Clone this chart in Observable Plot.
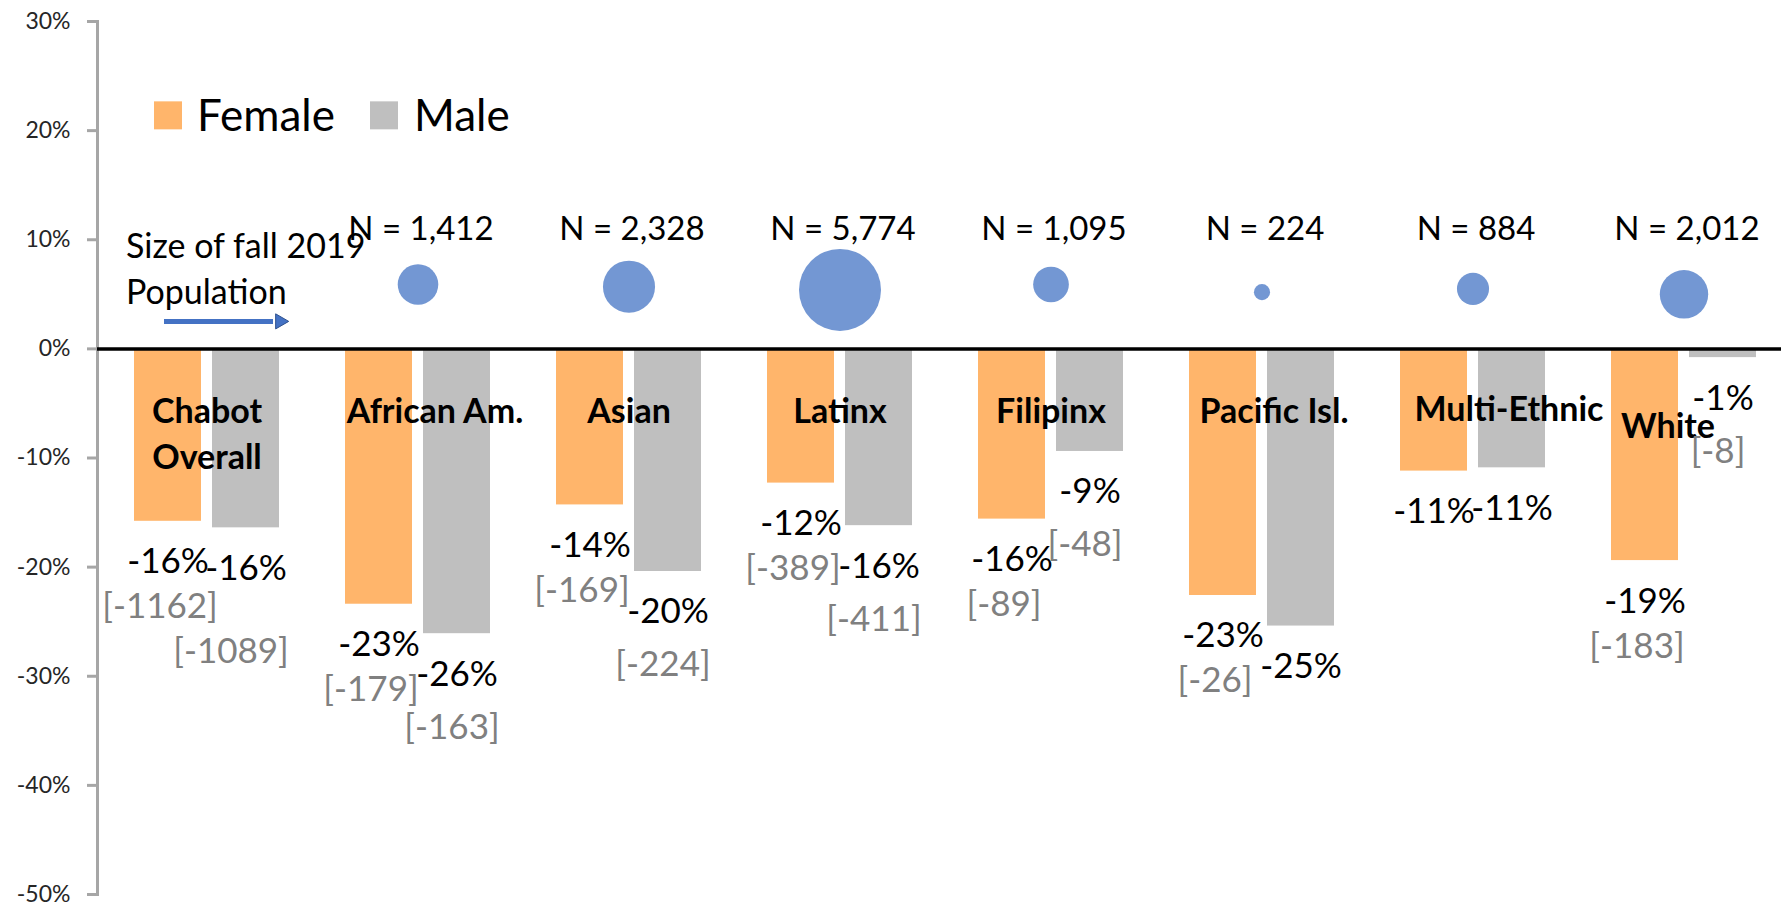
<!DOCTYPE html>
<html><head><meta charset="utf-8">
<script src="https://cdn.jsdelivr.net/npm/d3@7"></script>
<script src="https://cdn.jsdelivr.net/npm/@observablehq/plot@0.6"></script>
<style>
html,body{margin:0;padding:0;background:#fff;}
</style></head><body><div id="chart"></div>
<script>
// ---- data ----
const groups = ["Chabot Overall","African Am.","Asian","Latinx","Filipinx","Pacific Isl.","Multi-Ethnic","White"];
const groupLabels = ["Chabot\nOverall","African Am.","Asian","Latinx","Filipinx","Pacific Isl.","Multi-Ethnic","White"];
const femaleChange = [-0.158,-0.234,-0.143,-0.123,-0.156,-0.226,-0.112,-0.194];
const maleChange   = [-0.164,-0.261,-0.204,-0.162,-0.094,-0.254,-0.109,-0.008];
const femaleCount  = [-1162,-179,-169,-389,-89,-26,null,-183];
const maleCount    = [-1089,-163,-224,-411,-48,null,null,-8];
const popGroups = ["African Am.","Asian","Latinx","Filipinx","Pacific Isl.","Multi-Ethnic","White"];
const popN      = [1412,2328,5774,1095,224,884,2012];
const popY      = [0.059,0.057,0.054,0.059,0.052,0.055,0.050];
const yTicks = [0.3,0.2,0.1,0,-0.1,-0.2,-0.3,-0.4,-0.5];
const seriesNames = ["Female","Male"];
const popNote = "Size of fall 2019\nPopulation";

// ---- tables ----
const female = groups.map((g,i)=>({group:g, label:groupLabels[i], value:femaleChange[i], count:femaleCount[i]}));
const male   = groups.map((g,i)=>({group:g, value:maleChange[i], count:maleCount[i]}));
const pop    = popGroups.map((g,i)=>({group:g, n:popN[i], y:popY[i]}));

const ORANGE = "#FFB56B", GRAY = "#BFBFBF", BLUE = "#7397D3";
const pct = v => `${Math.round(v*100)}%`;
const cnt = v => `[${v}]`;
const first = () => groups[0];

// category label helper (annotation placement as in the reference)
const catLabel = (names, dx, dy) => Plot.text(female.filter(d => names.includes(d.group)), {
  x: "group", y: -0.0665, text: "label", lineAnchor: "top", lineHeight: 1.35,
  dx, dy: -31 + dy, fontSize: 34, fontWeight: "bold", fill: "#000"
});

const chart = Plot.plot({
  width: 1781, height: 906,
  marginLeft: 97, marginRight: 0, marginTop: 21, marginBottom: 12,
  style: {fontFamily: "Lato, 'Open Sans', sans-serif", fontSize: "23px", background: "#fff", color: "#000"},
  x: {type: "band", domain: groups, range: [97, 1793], paddingInner: 0.311, paddingOuter: 0.156, axis: null},
  y: {domain: [-0.5, 0.3]},
  r: {domain: [0, 5774], range: [0, 41]},
  marks: [
    Plot.frame({anchor: "left", stroke: "#a6a6a6", strokeWidth: 3}),
    Plot.axisY({ticks: yTicks, tickFormat: pct, tickSize: 10, tickPadding: 17, stroke: "#a6a6a6", strokeWidth: 3, fill: "#262626", fontSize: 23}),
    Plot.barY(female, {x: "group", y1: 0, y2: "value", fill: ORANGE, insetRight: 78}),
    Plot.barY(male,   {x: "group", y1: 0, y2: "value", fill: GRAY, insetLeft: 78}),
    Plot.ruleY([0], {stroke: "#000", strokeWidth: 3.5}),
    // bubbles
    Plot.dot(pop, {x: "group", y: "y", r: "n", fill: BLUE, stroke: "none"}),
    Plot.text(pop, {x: "group", y: 0.10, text: d => `N = ${d3.format(",")(d.n)}`, lineAnchor: "bottom", dx: 3, fontSize: 33, fill: "#000"}),
    // category labels
    catLabel(["Chabot Overall","Asian","Latinx","Filipinx"], 0, 0),
    catLabel(["African Am."], 17, 0),
    catLabel(["Pacific Isl."], 12, 0),
    catLabel(["Multi-Ethnic"], 36, -2),
    catLabel(["White"], -16, 15),
    // value labels
    Plot.text(female, {x: "group", y: "value", text: d => pct(d.value), lineAnchor: "bottom", dy: 52, dx: -39, fontSize: 35, fill: "#000"}),
    Plot.text(male,   {x: "group", y: "value", text: d => pct(d.value), lineAnchor: "bottom", dy: 52, dx: 39, fontSize: 35, fill: "#000"}),
    // count labels
    Plot.text(female.filter(d => d.count != null), {x: "group", y: "value", text: d => cnt(d.count), lineAnchor: "bottom", dy: 97, dx: -47, fontSize: 35, fill: "#808080"}),
    Plot.text(male.filter(d => d.count != null && d.group !== "Chabot Overall"), {x: "group", y: "value", text: d => cnt(d.count), lineAnchor: "bottom", dy: 105, dx: 34, fontSize: 35, fill: "#808080"}),
    Plot.text(male.filter(d => d.group === "Chabot Overall"), {x: "group", y: "value", text: d => cnt(d.count), lineAnchor: "bottom", dy: 135, dx: 24, fontSize: 35, fill: "#808080"}),
    // population annotation
    Plot.text([popNote], {x: first, y: 0.0408, text: d => d, textAnchor: "start", lineAnchor: "bottom", lineHeight: 1.35, dx: -81, fontSize: 34, fill: "#000"}),
    Plot.tickY([0.0252], {x: first, y: d => d, stroke: "#4472C4", strokeWidth: 5, insetLeft: 30, insetRight: 6}),
    Plot.dot([0.0252], {x: first, y: d => d, symbol: "triangle", r: 5.6, rotate: 90, dx: 73, fill: "#4472C4", stroke: "#2F528F", strokeWidth: 1}),
    // legend
    Plot.dot(seriesNames.slice(0,1), {x: first, y: 0.214, symbol: "square", r: 15.8, dx: -39, fill: ORANGE, stroke: "none"}),
    Plot.dot(seriesNames.slice(1,2), {x: first, y: 0.214, symbol: "square", r: 15.8, dx: 177, fill: GRAY, stroke: "none"}),
    Plot.text(seriesNames.slice(0,1), {x: first, y: 0.2, text: d => d, textAnchor: "start", lineAnchor: "bottom", dx: -10, fontSize: 44, fill: "#000"}),
    Plot.text(seriesNames.slice(1,2), {x: first, y: 0.2, text: d => d, textAnchor: "start", lineAnchor: "bottom", dx: 207, fontSize: 44, fill: "#000"})
  ]
});
document.getElementById("chart").append(chart);
</script></body></html>
